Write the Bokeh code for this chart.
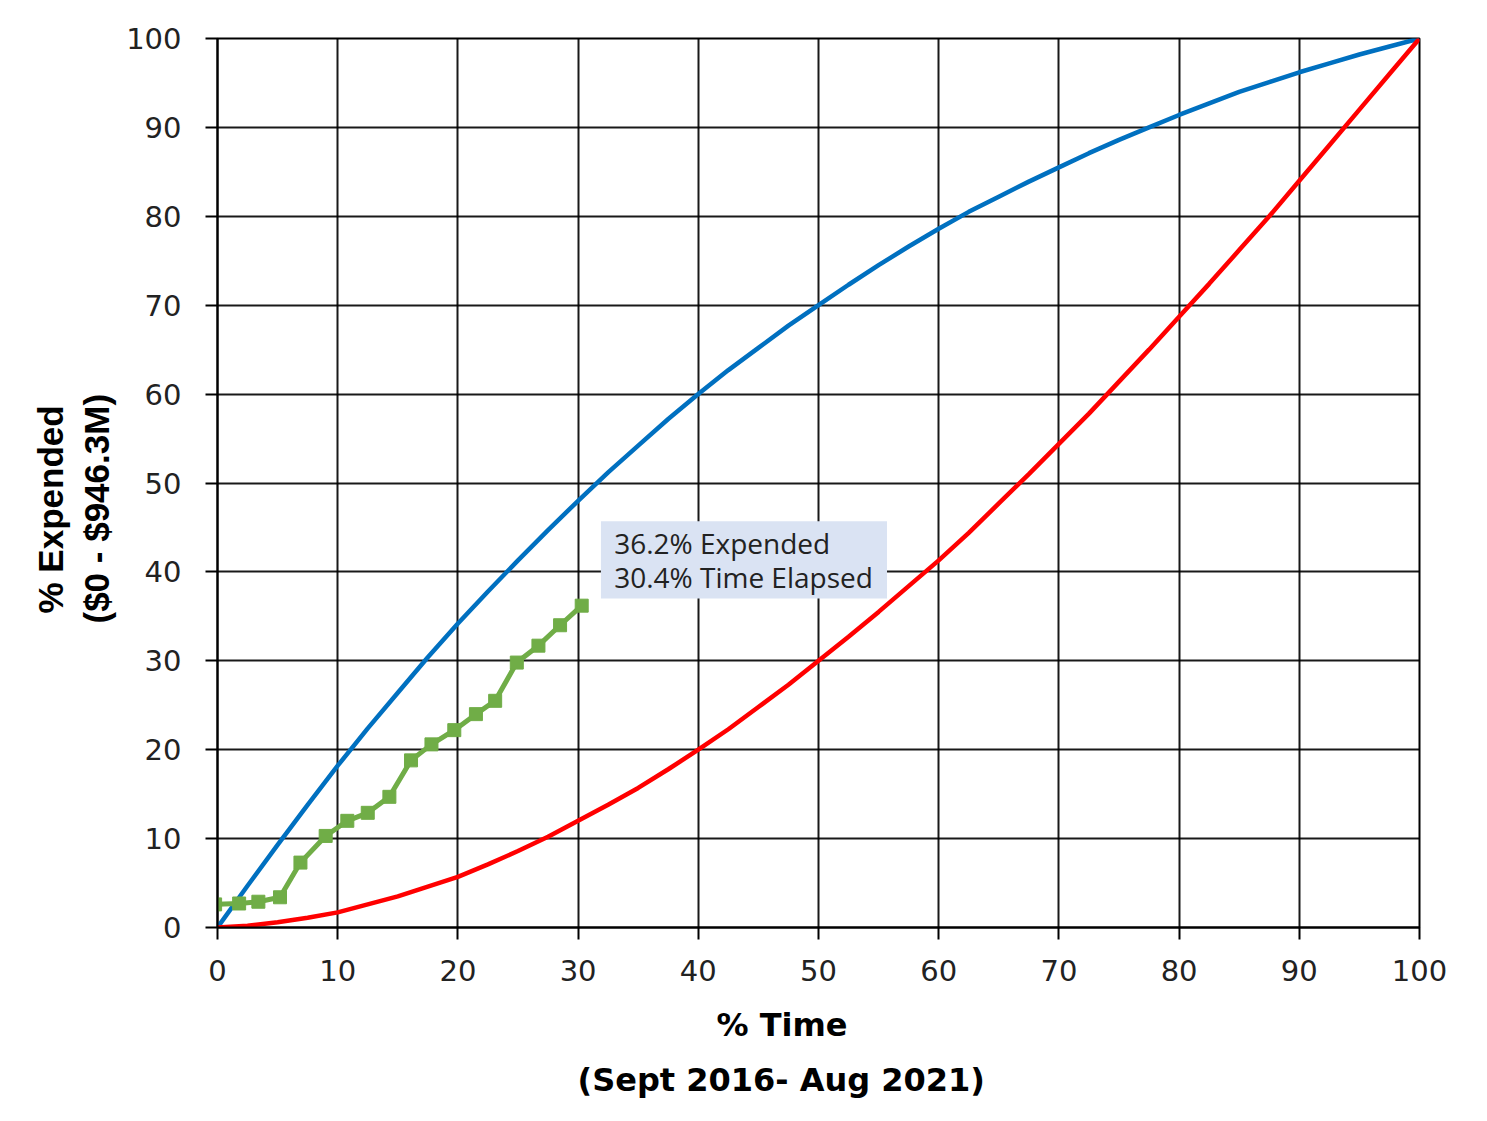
from bokeh.plotting import figure
from bokeh.models import Range1d, FixedTicker, Label, BoxAnnotation, Title
from bokeh.embed import file_html
from bokeh.resources import INLINE

# ---- data ----
ticks = [0, 10, 20, 30, 40, 50, 60, 70, 80, 90, 100]

curve_x = [0, 2.5, 5, 7.5, 10, 12.5, 15, 17.5, 20, 22.5, 25, 27.5, 30, 32.5, 35, 37.5, 40, 42.5, 45, 47.5,
           50, 52.5, 55, 57.5, 60, 62.5, 65, 67.5, 70, 72.5, 75, 77.5, 80, 82.5, 85, 87.5, 90, 92.5, 95, 97.5, 100]
upper_y = [0, 4.7, 9.3, 13.8, 18.2, 22.4, 26.4, 30.4, 34.2, 37.8, 41.3, 44.7, 48.0, 51.2, 54.2, 57.2, 60.0, 62.7,
           65.2, 67.7, 70.0, 72.3, 74.5, 76.6, 78.6, 80.5, 82.2, 83.9, 85.5, 87.1, 88.6, 90.0, 91.4, 92.7, 94.0,
           95.1, 96.2, 97.2, 98.2, 99.1, 100]
lower_y = [0, 0.2, 0.6, 1.1, 1.7, 2.6, 3.5, 4.6, 5.7, 7.1, 8.6, 10.2, 12.0, 13.8, 15.7, 17.8, 20.0, 22.3, 24.8,
           27.3, 30.0, 32.7, 35.5, 38.4, 41.3, 44.4, 47.7, 51.0, 54.4, 57.8, 61.4, 65.0, 68.7, 72.4, 76.2, 80.0,
           84.0, 88.0, 92.0, 96.0, 100]

actual_x = [-0.2, 1.8, 3.4, 5.2, 6.9, 9.0, 10.8, 12.5, 14.3, 16.1, 17.8, 19.7, 21.5, 23.1, 24.9, 26.7, 28.5, 30.3]
actual_y = [2.6, 2.7, 2.9, 3.4, 7.3, 10.3, 12.0, 12.9, 14.7, 18.8, 20.6, 22.2, 24.0, 25.5, 29.8, 31.7, 34.0, 36.2]

note_lines = ["36.2% Expended", "30.4% Time Elapsed"]
x_title = ["% Time", "(Sept 2016- Aug 2021)"]
y_title = ["% Expended", "($0 - $946.3M)"]

p = figure(width=1471, height=1105, output_backend="svg", toolbar_location=None,
           x_range=Range1d(0, 100), y_range=Range1d(0, 100),
           min_border_left=217, min_border_right=52, min_border_top=38, min_border_bottom=178)
p.background_fill_color = "white"
p.border_fill_color = "white"
p.outline_line_color = "black"
p.outline_line_width = 2

for ax in (p.xaxis[0], p.yaxis[0]):
    ax.ticker = FixedTicker(ticks=ticks)
    ax.minor_tick_line_color = None
    ax.axis_line_color = "black"
    ax.axis_line_width = 2
    ax.major_tick_line_color = "black"
    ax.major_tick_line_width = 2
    ax.major_tick_in = 0
    ax.major_tick_out = 12
    ax.major_label_text_font = "DejaVu Sans"
    ax.major_label_text_font_size = "29px"
    ax.major_label_text_color = "#222222"
p.xaxis.major_label_standoff = 20
p.yaxis.major_label_standoff = 24

for g in (p.xgrid[0], p.ygrid[0]):
    g.ticker = FixedTicker(ticks=ticks)
    g.grid_line_color = "black"
    g.grid_line_width = 2
    g.grid_line_alpha = 0.9

box = BoxAnnotation(left=31.9, right=55.7, bottom=37.0, top=45.7,
                    fill_color="#dae3f3", fill_alpha=1.0, line_color=None, level="underlay")
p.add_layout(box)

p.line(curve_x, upper_y, line_color="#0070c0", line_width=4.5)
p.line(curve_x, lower_y, line_color="#ff0000", line_width=4.5)
p.line(actual_x, actual_y, line_color="#70ad47", line_width=5)
p.scatter(actual_x, actual_y, marker="square", size=13, fill_color="#70ad47", line_color="#70ad47")

for txt, yy in zip(note_lines, [43.2, 39.4]):
    p.add_layout(Label(x=33.0, y=yy, text=txt, text_font="Open Sans", text_font_size="28px",
                       text_color="#222222", text_align="left", text_baseline="middle"))

# x-axis title (two lines), below the axis; left-aligned with pixel offsets from the frame's left edge
for txt, sd, off in zip(x_title, [40, -9], [499, 360]):
    p.add_layout(Title(text=txt, align="left", offset=off, standoff=sd,
                       text_font="DejaVu Sans", text_font_style="bold", text_font_size="32px",
                       text_color="black"), "below")
# y-axis title (two lines), the second line sits closer to the axis
for txt, sd, off in zip([y_title[1], y_title[0]], [16, -7], [304, 314]):
    p.add_layout(Title(text=txt, align="left", offset=off, standoff=sd,
                       text_font="Liberation Sans", text_font_style="bold", text_font_size="35px",
                       text_color="black"), "left")

open("out.html", "w").write(file_html(p, INLINE))
